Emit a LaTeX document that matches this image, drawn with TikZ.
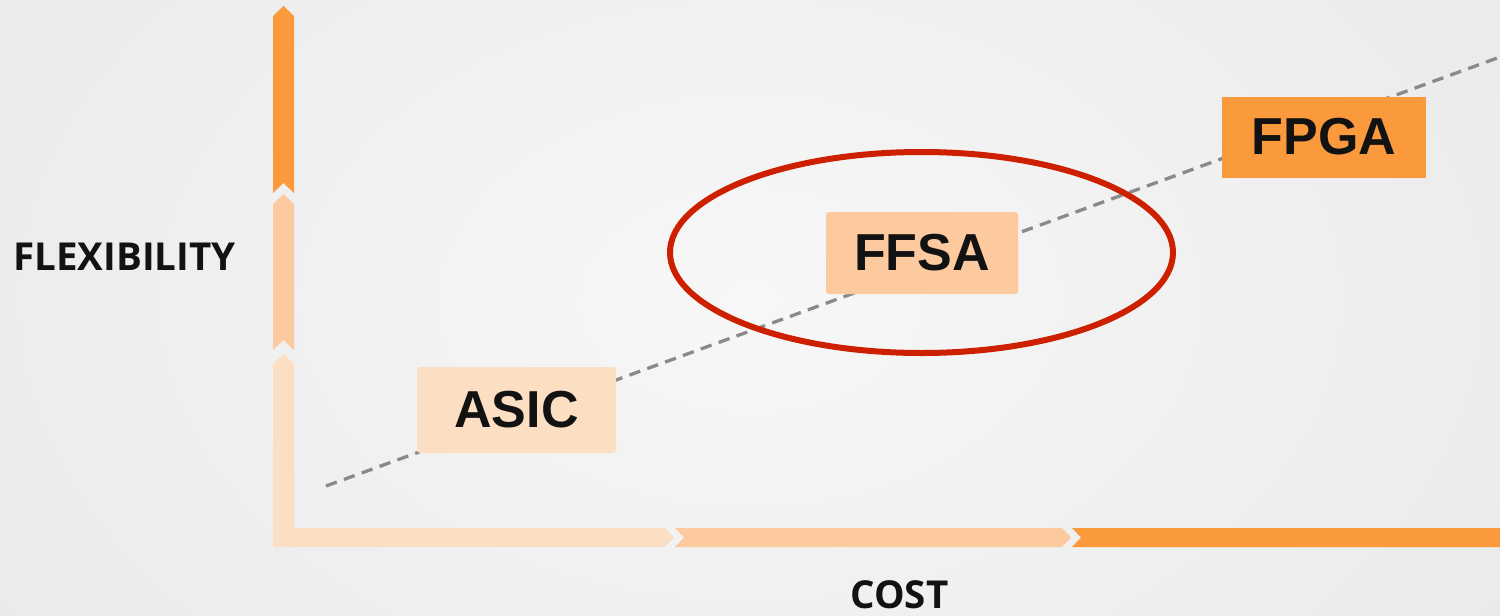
\documentclass[tikz,border=0pt]{standalone}
\usepackage{fontspec}
\usetikzlibrary{shapes.geometric}
\setmainfont{Liberation Sans}
\newfontfamily\labelfont{Open Sans}
\definecolor{darkor}{HTML}{FA9A3C}
\definecolor{midor}{HTML}{FDCA9F}
\definecolor{lightor}{HTML}{FCDEC3}
\definecolor{ringred}{HTML}{CC2000}
\definecolor{trend}{HTML}{8A8A8A}
\definecolor{bgin}{HTML}{F7F7F7}
\definecolor{bgout}{HTML}{E8E8E8}
\begin{document}
\begin{tikzpicture}[x=1pt,y=-1pt,
  boxstyle/.style={inner sep=0pt, font=\fontsize{52}{52}\selectfont\bfseries, text=black!93},
  axislabel/.style={inner sep=0pt, font=\labelfont\fontsize{38.5}{38.5}\selectfont\bfseries, text=black!93},
  trendline/.style={draw=trend, line width=3.3pt, dash pattern=on 11.5pt off 7.5pt}]
\useasboundingbox (0,0) rectangle (1500,616);
\shade[inner color=bgin, outer color=bgout] (-300,-400) rectangle (1800,1000);
% axes
\fill[darkor] (273,16) -- (283.5,6) -- (294,16) -- (294,193) -- (283.5,183) -- (273,193) -- cycle;
\fill[midor] (273,204) -- (283.5,194) -- (294,204) -- (294,350) -- (283.5,340) -- (273,350) -- cycle;
\fill[lightor] (273,364) -- (283.5,354) -- (294,364) -- (294,528) -- (665,528) -- (674,537.5) -- (665,547) -- (273,547) -- cycle;
\fill[midor] (675,528) -- (1062,528) -- (1071,537.5) -- (1062,547) -- (675,547) -- (684,537.5) -- cycle;
\fill[darkor] (1072,528) -- (1500,528) -- (1500,547) -- (1072,547) -- (1081,537.5) -- cycle;
% trend line
\coordinate (ts) at (326,486);
\coordinate (te) at (1500,57);
\draw[trendline] (ts) -- (te);
% boxes
\node[boxstyle, fill=lightor, rounded corners=3pt, minimum width=199pt, minimum height=86pt] (asic) at (516.5,410) {ASIC};
\node[boxstyle, fill=midor, rounded corners=3pt, minimum width=192pt, minimum height=82pt] (ffsa) at (922,253) {FFSA};
\node[boxstyle, fill=darkor, minimum width=204pt, minimum height=81pt] (fpga) at (1324,137) {FPGA};
% ellipse
\node[draw=ringred, line width=6pt, ellipse, inner sep=0pt, minimum width=503pt, minimum height=201pt] (ring) at (921.5,252.5) {};
% labels
\node[axislabel] (flex) at (124.5,257) {FLEXIBILITY};
\node[axislabel] (cost) at (899.5,595) {COST};
\end{tikzpicture}
\end{document}
